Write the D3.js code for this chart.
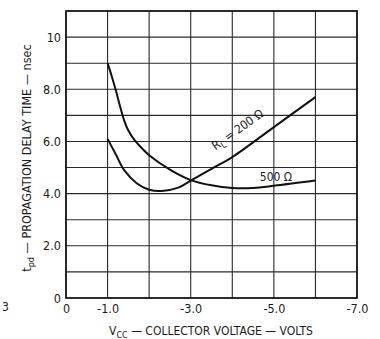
<!DOCTYPE html>
<html>
<head>
<meta charset="utf-8">
<script src="https://cdn.jsdelivr.net/npm/d3@7"></script>
<style>
  html, body { margin: 0; padding: 0; background: #fff; }
  svg { display: block; }
  text { font-family: "Liberation Sans Narrow", "DejaVu Sans Condensed", "Liberation Sans", sans-serif; fill: #1a1a1a; }
</style>
</head>
<body>
<svg id="chart" width="380" height="339"></svg>
<script>
// Propagation delay vs collector voltage, two load resistances
const vcc200 = [-1.0, -1.2, -1.4, -1.7, -2.0, -2.3, -2.7, -3.0, -3.5, -4.0, -5.0, -6.0];
const td200  = [6.1, 5.5, 4.9, 4.4, 4.15, 4.1, 4.23, 4.5, 4.95, 5.4, 6.55, 7.7];

const vcc500 = [-1.0, -1.1, -1.2, -1.3, -1.4, -1.5, -1.65, -1.85, -2.0, -2.5, -3.0, -3.5, -4.0, -4.5, -5.0, -6.0];
const td500  = [9.0, 8.5, 7.95, 7.35, 6.8, 6.42, 6.05, 5.7, 5.47, 4.92, 4.52, 4.32, 4.22, 4.22, 4.3, 4.5];

const xTickValues = [0, -1, -3, -5, -7];
const xTickLabels = ["0", "-1.0", "-3.0", "-5.0", "-7.0"];
const yTickValues = [0, 2, 4, 6, 8, 10];
const yTickLabels = ["0", "2.0", "4.0", "6.0", "8.0", "10"];

const svg = d3.select("#chart");
const M = { left: 66, right: 357, top: 11, bottom: 298 };

const x = d3.scaleLinear().domain([0, -7]).range([M.left, M.right]);
const y = d3.scaleLinear().domain([0, 11]).range([M.bottom, M.top]);

// grid
const grid = svg.append("g").attr("stroke", "#2a2a2a").attr("stroke-width", 1.1);
grid.selectAll("line.v").data(d3.range(0, -8, -1)).join("line")
  .attr("x1", d => x(d)).attr("x2", d => x(d))
  .attr("y1", y(0)).attr("y2", y(11));
grid.selectAll("line.h").data(d3.range(0, 12)).join("line")
  .attr("y1", d => y(d)).attr("y2", d => y(d))
  .attr("x1", x(0)).attr("x2", x(-7));

svg.append("rect")
  .attr("x", x(0)).attr("y", y(11))
  .attr("width", x(-7) - x(0)).attr("height", y(0) - y(11))
  .attr("fill", "none").attr("stroke", "#111").attr("stroke-width", 1.6);

// axes (labels only)
const xAxis = d3.axisBottom(x).tickValues(xTickValues)
  .tickFormat((d, i) => xTickLabels[i]).tickSize(0).tickPadding(6);
svg.append("g").attr("transform", `translate(0,${y(0)})`).call(xAxis)
  .call(g => g.select(".domain").remove())
  .selectAll("text").attr("font-size", 12.5).attr("fill", "#1a1a1a")
  .style("font-family", "'Liberation Sans Narrow','DejaVu Sans Condensed',sans-serif");

const yAxis = d3.axisLeft(y).tickValues(yTickValues)
  .tickFormat((d, i) => yTickLabels[i]).tickSize(0).tickPadding(5);
svg.append("g").attr("transform", `translate(${x(0)},0)`).call(yAxis)
  .call(g => g.select(".domain").remove())
  .selectAll("text").attr("font-size", 12.5).attr("fill", "#1a1a1a")
  .style("font-family", "'Liberation Sans Narrow','DejaVu Sans Condensed',sans-serif");

// curves
const line = d3.line().x(d => x(d[0])).y(d => y(d[1])).curve(d3.curveCatmullRom.alpha(0.5));
svg.append("path").datum(d3.zip(vcc200, td200)).attr("d", line)
  .attr("fill", "none").attr("stroke", "#111").attr("stroke-width", 2);
svg.append("path").datum(d3.zip(vcc500, td500)).attr("d", line)
  .attr("fill", "none").attr("stroke", "#111").attr("stroke-width", 2);

// curve labels
const ang = Math.atan2(y(6.55) - y(5.4), x(-5) - x(-4)) * 180 / Math.PI;
const l200 = svg.append("text")
  .attr("transform", `translate(240,133) rotate(${ang})`)
  .attr("text-anchor", "middle").attr("font-size", 12);
l200.append("tspan").text("R");
l200.append("tspan").attr("dy", 3).attr("font-size", 9).text("L");
l200.append("tspan").attr("dy", -3).text(" = 200 \u03A9");

svg.append("text").attr("x", x(-5.05)).attr("y", y(4.32) - 4)
  .attr("text-anchor", "middle").attr("font-size", 12).text("500 \u03A9");

// axis titles
const xt = svg.append("text").attr("x", 211).attr("y", 335)
  .attr("text-anchor", "middle").attr("font-size", 12);
xt.append("tspan").text("V");
xt.append("tspan").attr("dy", 3).attr("font-size", 9).text("CC");
xt.append("tspan").attr("dy", -3).text(" \u2014 COLLECTOR VOLTAGE \u2014 VOLTS");

const yt = svg.append("text")
  .attr("transform", "translate(31,158) rotate(-90)")
  .attr("text-anchor", "middle").attr("font-size", 12.5);
yt.append("tspan").text("t");
yt.append("tspan").attr("dy", 3).attr("font-size", 9).text("pd");
yt.append("tspan").attr("dy", -3).text(" \u2014 PROPAGATION DELAY TIME \u2014 nsec");

svg.append("text").attr("x", 2).attr("y", 311).attr("font-size", 12).text("3");
</script>
</body>
</html>
